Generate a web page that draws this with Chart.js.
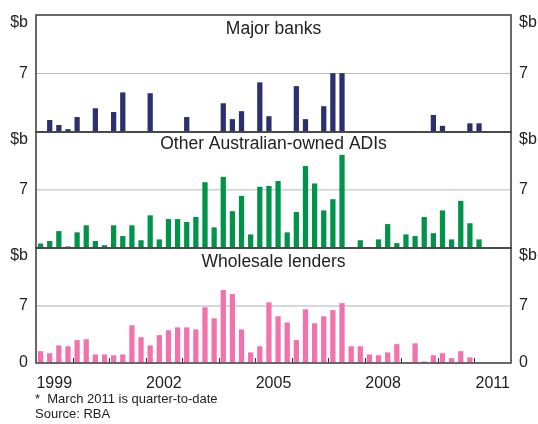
<!DOCTYPE html>
<html><head><meta charset="utf-8">
<script src="https://cdn.jsdelivr.net/npm/chart.js@4"></script>
<style>
html,body{margin:0;padding:0;background:#fff;}
#wrap{position:relative;width:538px;height:424px;overflow:hidden;font-family:'Liberation Sans',Arial,sans-serif;color:#222;}
#wrap canvas{position:absolute;left:0;top:0;}
.note{position:absolute;left:35px;font-size:13px;white-space:pre;line-height:15px;}
</style></head><body>
<div id="wrap">
<canvas id="c1" width="538" height="424" style="width:538px;height:424px"></canvas>
<canvas id="c2" width="538" height="424" style="width:538px;height:424px"></canvas>
<canvas id="c3" width="538" height="424" style="width:538px;height:424px"></canvas>
<div class="note" style="top:391px">*  March 2011 is quarter-to-date</div>
<div class="note" style="top:406px">Source: RBA</div>
</div>
<script>
// Quarterly values ($b), first value = March quarter 1999, last = March quarter 2011
const firstYear = 1999;
const lastYear = 2012;
const yearTickLabels = [1999, 2002, 2005, 2008, 2011];
const yTickValues = [0, 7, 14];
const panelTitles = ['Major banks', 'Other Australian-owned ADIs', 'Wholesale lenders'];

const majorBanks = [0, 1.4, 0.8, 0.3, 1.75, 0, 2.8, 0, 2.35, 4.7, 0, 0, 4.6, 0, 0, 0,
  1.75, 0, 0, 0, 3.4, 1.5, 2.45, 0, 5.9, 1.85, 0, 0, 5.45, 1.5, 0, 3.05,
  7.0, 7.0, 0, 0, 0, 0, 0, 0, 0, 0, 0, 2.0, 0.7, 0, 0, 1.0, 1.0];

const otherADIs = [0.5, 0.8, 2.0, 0.15, 1.85, 2.7, 0.8, 0.3, 2.7, 1.4, 2.7, 0.9, 3.9, 1.0, 3.45, 3.45,
  3.1, 3.7, 7.9, 2.45, 8.55, 4.4, 6.25, 1.6, 7.35, 7.45, 8.05, 1.85, 4.3, 9.85, 7.75, 4.5,
  5.85, 11.2, 0, 0.9, 0, 1.0, 2.85, 0.55, 1.6, 1.4, 3.7, 1.75, 4.5, 1.0, 5.65, 2.95, 1.0];

const wholesaleLenders = [1.4, 1.15, 2.1, 2.0, 2.75, 2.85, 1.0, 1.0, 0.9, 1.0, 4.55, 3.1, 2.1, 3.35, 3.95, 4.3,
  4.3, 4.05, 6.75, 5.4, 8.85, 8.35, 4.05, 1.25, 2.0, 7.35, 5.65, 4.9, 2.75, 6.5, 4.8, 5.65,
  6.4, 7.25, 2.0, 2.0, 1.0, 0.9, 1.25, 2.25, 0, 2.35, 0.15, 0.9, 1.15, 0.55, 1.4, 0.65, null];

const FONT = "'Liberation Sans', Arial, sans-serif";
const TXT = '#222';

function toPoints(values) {
  return values.map((v, i) => ({ x: firstYear + (i + 0.5) / 4, y: v }));
}

const decoPlugin = {
  id: 'panelDeco',
  afterDatasetsDraw(chart, args, opts) {
    const { ctx, chartArea: a, scales } = chart;
    ctx.save();
    if (opts.yearTicks) {
      ctx.strokeStyle = '#333';
      ctx.lineWidth = 1;
      ctx.beginPath();
      for (let y = firstYear + 1; y < lastYear; y++) {
        const px = Math.round(scales.x.getPixelForValue(y)) + 0.5;
        ctx.moveTo(px, a.bottom);
        ctx.lineTo(px, a.bottom - 5);
      }
      ctx.stroke();
    }
    ctx.strokeStyle = '#444';
    ctx.lineWidth = 1.6;
    ctx.strokeRect(a.left, a.top, a.right - a.left, a.bottom - a.top);
    ctx.fillStyle = TXT;
    ctx.font = '17.5px ' + FONT;
    ctx.textAlign = 'center';
    ctx.textBaseline = 'alphabetic';
    ctx.fillText(opts.title, (a.left + a.right) / 2, a.top + opts.titleOffset);
    ctx.restore();
  }
};

function yAxis(position, isBottom, gridColor, gridWidth) {
  return {
    position: position,
    min: 0, max: 14,
    afterFit: s => {
      s.width = position === 'left' ? 36 : 27;
      s.paddingTop = 0; s.paddingBottom = 0;
    },
    afterBuildTicks: s => { s.ticks = yTickValues.map(v => ({ value: v })); },
    grid: {
      display: position === 'left',
      drawTicks: false,
      color: c => (c.tick && c.tick.value === 7) ? gridColor : 'rgba(0,0,0,0)',
      lineWidth: gridWidth
    },
    border: { display: false },
    ticks: {
      padding: 8,
      color: TXT,
      font: { family: FONT, size: 16, lineHeight: 1.0 },
      callback: v => v === 14 ? ['', '$b'] : (v === 7 ? '7' : (isBottom ? '0' : ''))
    }
  };
}

function makeChart(id, values, color, title, titleOffset, top, bottom, isBottom, gridColor, gridWidth) {
  return new Chart(document.getElementById(id), {
    type: 'bar',
    data: { datasets: [{ data: toPoints(values), backgroundColor: color, barThickness: 4.6, yAxisID: 'y' }] },
    options: {
      responsive: false,
      animation: false,
      events: [],
      layout: { padding: { top: top, bottom: isBottom ? 424 - bottom - 30 : 424 - bottom, left: 0, right: 0 } },
      plugins: {
        legend: { display: false },
        tooltip: { enabled: false },
        panelDeco: { title: title, titleOffset: titleOffset, yearTicks: isBottom }
      },
      scales: {
        x: {
          type: 'linear', min: firstYear, max: lastYear, offset: false,
          display: isBottom,
          grid: { display: false },
          border: { display: false },
          afterBuildTicks: s => { s.ticks = yearTickLabels.map(y => ({ value: y + 0.5 })); },
          afterFit: s => { if (isBottom) { s.height = 30; } s.paddingLeft = 0; s.paddingRight = 0; },
          ticks: {
            autoSkip: false, maxRotation: 0, padding: 3, color: TXT,
            font: { family: FONT, size: 16 },
            callback: v => String(Math.floor(v))
          }
        },
        y: yAxis('left', isBottom, gridColor, gridWidth),
        y2: yAxis('right', isBottom, gridColor, gridWidth)
      }
    },
    plugins: [decoPlugin]
  });
}

makeChart('c1', majorBanks, '#2d3070', panelTitles[0], 19, 15, 132, false, '#b8b8b8', 1);
makeChart('c2', otherADIs, '#00934a', panelTitles[1], 16.5, 132, 248, false, '#cfcfcf', 1.5);
makeChart('c3', wholesaleLenders, '#f172ac', panelTitles[2], 18.5, 248, 363, true, '#d8d8d8', 2);
</script>
</body></html>
